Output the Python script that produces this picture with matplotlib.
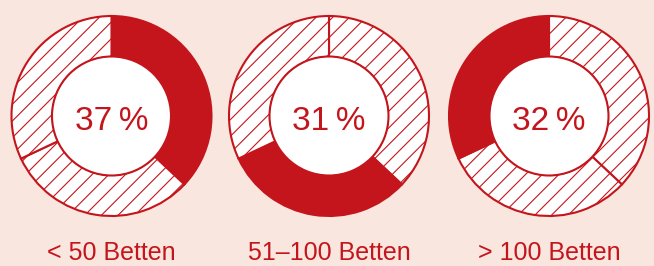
import matplotlib.pyplot as plt

# share of each group (percent), same order in every ring
shares = [37, 31, 32]
groups = ["< 50 Betten", "51\u2013100 Betten", "> 100 Betten"]

red = "#c4151c"
bg = "#f9e6de"

plt.rcParams['font.family'] = ['Liberation Sans', 'DejaVu Sans']
plt.rcParams['hatch.linewidth'] = 0.8

fig = plt.figure(figsize=(6.54, 2.66), dpi=100, facecolor=bg)
ax = fig.add_axes([0, 0, 1, 1])
ax.set_facecolor(bg)

centers_x = [111.5, 329, 549]
cy = 150
for i, cx in enumerate(centers_x):
    cols = ["white"] * len(shares)
    hatches = ["//"] * len(shares)
    cols[i] = red
    hatches[i] = ""
    ax.pie(shares, colors=cols, hatch=hatches, center=(cx, cy), radius=100,
           startangle=90, counterclock=False,
           wedgeprops=dict(width=41, edgecolor=red, linewidth=1.5))
    # white disc in the middle
    ax.pie([1], colors=["white"], center=(cx, cy), radius=59.5,
           wedgeprops=dict(edgecolor=red, linewidth=1.5))
    ax.text(cx, 135.5, f"{shares[i]}\u2009%", ha="center", va="baseline",
            color=red, fontsize=24)
    ax.text(cx, 0.5, groups[i], ha="center", va="bottom",
            color=red, fontsize=18)

ax.set_xlim(0, 654)
ax.set_ylim(0, 266)
ax.set_aspect("equal")
ax.axis("off")

fig.savefig("out.png", dpi=100, facecolor=bg)
